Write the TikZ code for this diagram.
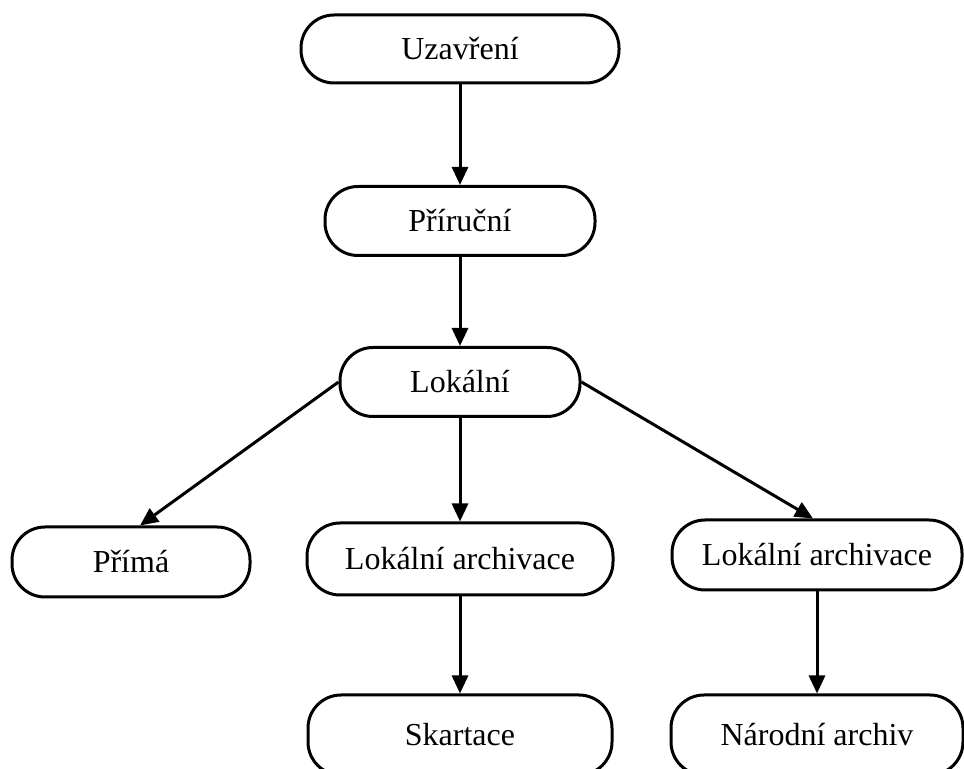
\documentclass[tikz,border=0pt]{standalone}
\usepackage{fontspec}
\setmainfont{Liberation Serif}
\usetikzlibrary{arrows.meta}

\tikzset{
  stage/.style={draw, line width=1.5pt, rounded corners=16.5pt, align=center,
    inner sep=0pt, font=\fontsize{16}{19}\selectfont},
  flow/.style={line width=1.5pt, -{Triangle[length=9pt,width=8pt]}}
}

\begin{document}
\begin{tikzpicture}[x=0.5pt, y=-0.5pt]
\useasboundingbox (0,0) rectangle (964,769);
% Draw chain of stages
\node[stage, minimum width=159pt, minimum height=34pt] (uzavreni) at (460,49) {Uzavření};
\node[stage, minimum width=135pt, minimum height=34.5pt] (prirucni) at (460,221) {Příruční};
\node[stage, minimum width=120pt, minimum height=34.5pt] (lokalni) at (460,382) {Lokální};
% Draw branches
\node[stage, minimum width=119pt, minimum height=35pt] (prima) at (131,562) {Přímá};
\node[stage, minimum width=153pt, minimum height=36pt] (lokarch) at (460,559) {Lokální archivace};
\node[stage, minimum width=145pt, minimum height=35pt] (lokarchb) at (817,555) {Lokální archivace};
% Draw final stages (cut off at the bottom)
\node[stage, minimum width=152pt, minimum height=40pt] (skartace) at (460,735) {Skartace};
\node[stage, minimum width=146pt, minimum height=40pt] (narodni) at (817,735) {Národní archiv};
% Arrows between stages
\draw[flow] (uzavreni) -- (prirucni);
\draw[flow] (prirucni) -- (lokalni);
\draw[flow] (lokalni.west) -- ([xshift=4.5pt]prima.north);
\draw[flow] (lokalni) -- (lokarch);
\draw[flow] (lokalni.east) -- ([xshift=-2pt]lokarchb.north);
\draw[flow] (lokarch) -- (skartace);
\draw[flow] (lokarchb) -- (narodni);
\end{tikzpicture}
\end{document}
